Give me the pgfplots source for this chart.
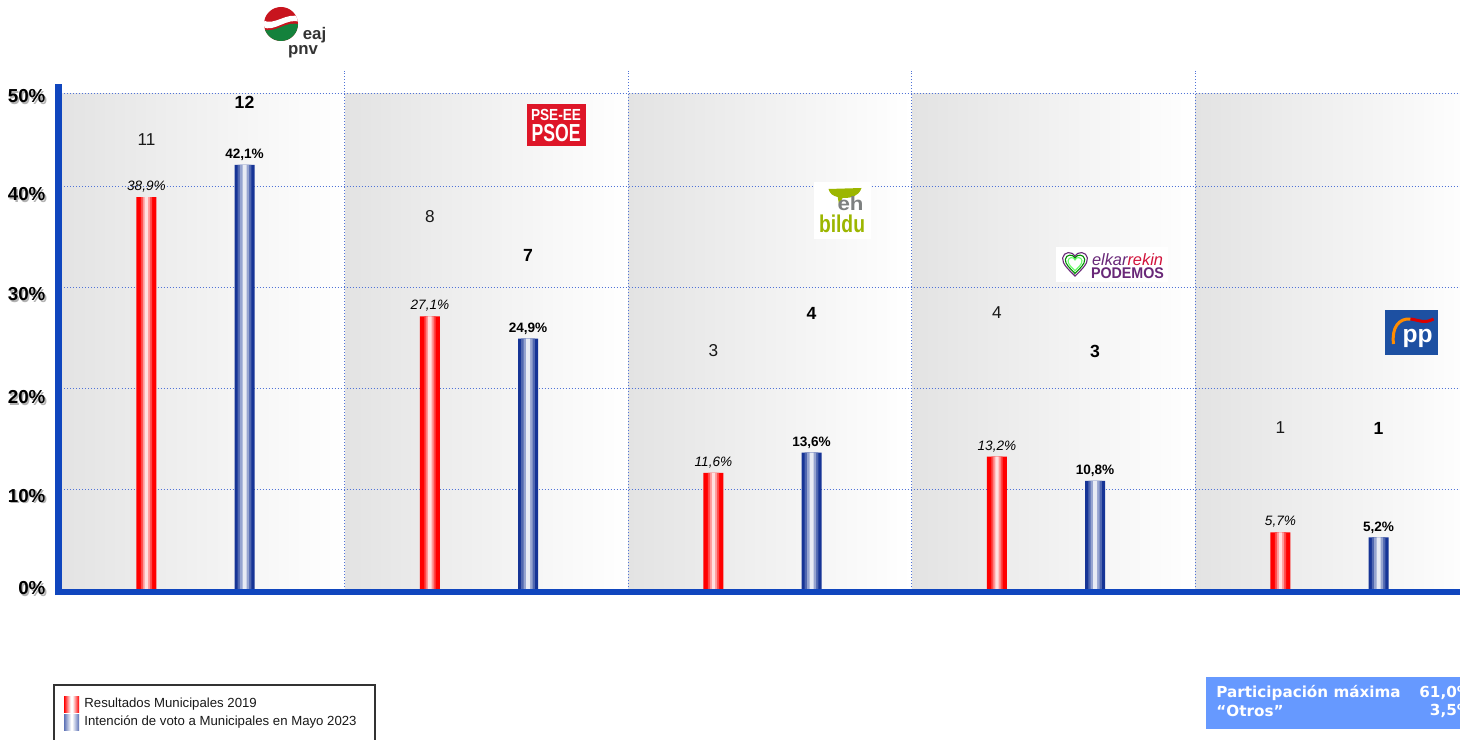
\documentclass[border=0pt]{standalone}
\usepackage{pgfplots}
\pgfplotsset{compat=1.18}
\usepackage{fontspec}
\setmainfont{Liberation Sans}
\newfontfamily\dejavu{DejaVu Sans}
\definecolor{axblue}{RGB}{16,70,190}
\definecolor{gridblue}{RGB}{80,115,215}
\definecolor{barblue}{RGB}{22,52,150}
\definecolor{partblue}{RGB}{102,153,255}
\definecolor{panelgray}{RGB}{227,227,227}
\definecolor{psoered}{RGB}{222,22,40}
\definecolor{bildugreen}{RGB}{156,182,0}
\definecolor{bildugray}{RGB}{125,128,128}
\definecolor{podpurple}{RGB}{105,40,120}
\definecolor{podred}{RGB}{210,20,60}
\definecolor{ppblue}{RGB}{29,80,162}
\definecolor{pnvred}{RGB}{200,20,30}
\definecolor{pnvgreen}{RGB}{20,130,60}
\pgfdeclarehorizontalshading{redbar}{100bp}{color(0bp)=(red); color(25bp)=(red); color(47bp)=(white); color(53bp)=(white); color(75bp)=(red); color(100bp)=(red)}
\pgfdeclarehorizontalshading{bluebar}{100bp}{color(0bp)=(barblue); color(15bp)=(barblue); color(48bp)=(white); color(52bp)=(white); color(85bp)=(barblue); color(100bp)=(barblue)}
\newcommand\sh[1]{\makebox[0pt][l]{\hspace{0.8pt}\raisebox{-0.8pt}{\color{black!30}#1}}#1}
\pgfplotsset{
  rb/.style={ybar, bar shift=0pt, draw=none, forget plot},
}
\tikzset{gl/.style={densely dotted, gridblue, line width=0.5pt}}
\begin{document}
\begin{tikzpicture}
\begin{scope}
\clip (-29.25pt,-74.5pt) rectangle (700.75pt,295pt);
\begin{axis}[
  scale only axis,
  width=700.75pt, height=252.5pt,
  xmin=-0.4832, xmax=4.4603,
  ymin=0, ymax=50,
  clip=false,
  axis line style={draw=none},
  xtick=\empty,
  ytick={0.1,9.24,19.0,29.2,39.1,48.8},
  yticklabels={\sh{0\%},\sh{10\%},\sh{20\%},\sh{30\%},\sh{40\%},\sh{50\%}},
  yticklabel style={font=\fontsize{9.4}{10}\selectfont\bfseries, anchor=east, xshift=-3pt},
  major tick length=0pt,
]
% panels
\shade[left color=panelgray, right color=white] (axis cs:-0.4832,0) rectangle (axis cs:0.527,49.2);
\shade[left color=panelgray, right color=white] (axis cs:0.527,0) rectangle (axis cs:1.527,49.2);
\shade[left color=panelgray, right color=white] (axis cs:1.527,0) rectangle (axis cs:2.527,49.2);
\shade[left color=panelgray, right color=white] (axis cs:2.527,0) rectangle (axis cs:3.527,49.2);
\shade[left color=panelgray, right color=white] (axis cs:3.527,0) rectangle (axis cs:4.527,49.2);
% grid lines
\draw[gl] (axis cs:-0.4832,10) -- (axis cs:4.4603,10);
\draw[gl] (axis cs:-0.4832,20) -- (axis cs:4.4603,20);
\draw[gl] (axis cs:-0.4832,30) -- (axis cs:4.4603,30);
\draw[gl] (axis cs:-0.4832,40) -- (axis cs:4.4603,40);
\draw[gl] (axis cs:-0.4832,49.2) -- (axis cs:4.4603,49.2);
\draw[gl] (axis cs:0.527,0) -- (axis cs:0.527,51.4);
\draw[gl] (axis cs:1.527,0) -- (axis cs:1.527,51.4);
\draw[gl] (axis cs:2.527,0) -- (axis cs:2.527,51.4);
\draw[gl] (axis cs:3.527,0) -- (axis cs:3.527,51.4);
% 2019 results (layered for a red-white-red gradient)
\addplot[rb, bar width=0.0705, fill=red]
  coordinates {(-0.173,38.9) (0.827,27.1) (1.827,11.6) (2.827,13.2) (3.827,5.7)};
\addplot[rb, bar width=0.040, fill=red!72!white]
  coordinates {(-0.173,38.9) (0.827,27.1) (1.827,11.6) (2.827,13.2) (3.827,5.7)};
\addplot[rb, bar width=0.026, fill=red!40!white]
  coordinates {(-0.173,38.9) (0.827,27.1) (1.827,11.6) (2.827,13.2) (3.827,5.7)};
\addplot[rb, bar width=0.012, fill=red!12!white]
  coordinates {(-0.173,38.9) (0.827,27.1) (1.827,11.6) (2.827,13.2) (3.827,5.7)};
% 2023 intention (layered for a blue-white-blue gradient)
\addplot[rb, bar width=0.0705, fill=barblue]
  coordinates {(0.173,42.1) (1.173,24.9) (2.173,13.6) (3.173,10.8) (4.173,5.2)};
\addplot[rb, bar width=0.048, fill=barblue!75!white]
  coordinates {(0.173,42.1) (1.173,24.9) (2.173,13.6) (3.173,10.8) (4.173,5.2)};
\addplot[rb, bar width=0.032, fill=barblue!45!white]
  coordinates {(0.173,42.1) (1.173,24.9) (2.173,13.6) (3.173,10.8) (4.173,5.2)};
\addplot[rb, bar width=0.014, fill=barblue!10!white]
  coordinates {(0.173,42.1) (1.173,24.9) (2.173,13.6) (3.173,10.8) (4.173,5.2)};
% value labels
\addplot[only marks, mark=none, point meta=y,
  nodes near coords={\pgfmathprintnumber[assume math mode=true,use comma,fixed,fixed zerofill,precision=1]{\pgfplotspointmeta}\%},
  nodes near coords style={anchor=south, text=black, inner sep=2.2pt, font=\fontsize{6.8}{8}\selectfont\itshape}]
  coordinates {(-0.173,38.9) (0.827,27.1) (1.827,11.6) (2.827,13.2) (3.827,5.7)};
\addplot[only marks, mark=none, point meta=y,
  nodes near coords={\pgfmathprintnumber[assume math mode=true,use comma,fixed,fixed zerofill,precision=1]{\pgfplotspointmeta}\%},
  nodes near coords style={anchor=south, text=black, inner sep=1.8pt, font=\fontsize{6.8}{8}\selectfont\bfseries}]
  coordinates {(0.173,42.1) (1.173,24.9) (2.173,13.6) (3.173,10.8) (4.173,5.2)};
% seats
\addplot[only marks, mark=none, point meta=explicit symbolic, nodes near coords,
  nodes near coords style={anchor=center, text=black!90, inner sep=0pt, font=\fontsize{8.6}{10}\selectfont}]
  coordinates {(-0.173,44.55) [11] (0.827,36.93) [8] (1.827,23.66) [3] (2.827,27.43) [4] (3.827,16.04) [1]};
\addplot[only marks, mark=none, point meta=explicit symbolic, nodes near coords,
  nodes near coords style={anchor=center, text=black, inner sep=0pt, font=\fontsize{8.8}{10}\selectfont\bfseries}]
  coordinates {(0.173,48.3) [12] (1.173,33.17) [7] (2.173,27.43) [4] (3.173,23.66) [3] (4.173,16.04) [1]};
\end{axis}
% axis lines
\draw[axblue, line width=3.5pt] (0pt,-2.5pt) -- (0pt,253pt);
\draw[axblue, line width=2.9pt] (-1.75pt,-1.1pt) -- (702pt,-1.1pt);
% PNV logo
\begin{scope}
\clip (111.25pt,283pt) circle (8.5pt);
\fill[pnvred] (102pt,273pt) rectangle (121pt,292pt);
\fill[pnvgreen] (102pt,273pt) -- (102pt,280.5pt) .. controls (108pt,277.5pt) and (114pt,285.5pt) .. (121pt,282.5pt) -- (121pt,273pt) -- cycle;
\fill[white] (102pt,281.5pt) .. controls (108pt,278.5pt) and (114pt,286.5pt) .. (121pt,284pt) -- (121pt,286.5pt) .. controls (114pt,289.5pt) and (108pt,281.5pt) .. (102pt,285pt) -- cycle;
\end{scope}
\node[text=black!80, inner sep=0pt, font=\fontsize{8.4}{9}\selectfont\bfseries] at (128pt,277.3pt) {eaj};
\node[text=black!80, inner sep=0pt, font=\fontsize{8.4}{9}\selectfont\bfseries] at (122.25pt,269.3pt) {pnv};
% PSOE logo
\fill[psoered] (234.25pt,222pt) rectangle (263.75pt,243pt);
\node[text=white, inner sep=0pt] at (248.75pt,237.6pt) {\resizebox{25pt}{5.6pt}{\bfseries PSE-EE}};
\node[text=white, inner sep=0pt] at (248.75pt,228.3pt) {\resizebox{24.5pt}{8.6pt}{\bfseries PSOE}};
% EH Bildu logo
\fill[white] (377.75pt,175.5pt) rectangle (406.25pt,204pt);
\fill[bildugreen] (385pt,200.5pt) -- (401.5pt,201pt) .. controls (400pt,196.5pt) and (396pt,196pt) .. (392pt,196pt) -- (390.3pt,192.5pt) -- (389.6pt,196.5pt) .. controls (387pt,197pt) and (385.5pt,198.5pt) .. cycle;
\node[text=bildugray, inner sep=0pt] at (396pt,193pt) {\resizebox{13pt}{7pt}{\bfseries eh}};
\node[text=bildugreen, inner sep=0pt] at (391.75pt,183.2pt) {\resizebox{23pt}{8.8pt}{\bfseries bildu}};
% Elkarrekin Podemos logo
\fill[white] (498.75pt,154pt) rectangle (554.75pt,171.5pt);
\foreach \s/\c in {1/podpurple, 0.78/green!55!black, 0.56/green!60} {
  \draw[\c, line width=0.55pt, shift={(508.25pt,163pt)}, scale=\s] (0pt,-6pt) .. controls (-3pt,-3pt) and (-6.5pt,0pt) .. (-6.2pt,3pt) .. controls (-5.8pt,6.2pt) and (-1.2pt,6.8pt) .. (0pt,3.6pt) .. controls (1.2pt,6.8pt) and (5.8pt,6.2pt) .. (6.2pt,3pt) .. controls (6.5pt,0pt) and (3pt,-3pt) .. cycle;
}
\node[inner sep=0pt] at (534.5pt,165pt) {\resizebox{35.5pt}{!}{\itshape\color{podpurple}elkar\color{podred}rekin}};
\node[inner sep=0pt] at (534.5pt,158.5pt) {\resizebox{36.5pt}{5.4pt}{\bfseries\color{podpurple}PODEMOS}};
% PP logo
\fill[ppblue] (663.25pt,117.5pt) rectangle (689.75pt,140pt);
\draw[orange!90!yellow, line width=1.5pt] (667.5pt,123pt) .. controls (666.5pt,131pt) and (670pt,136pt) .. (676pt,135.5pt);
\draw[red!85!black, line width=1.5pt] (676pt,135.5pt) .. controls (680pt,135pt) and (683pt,133pt) .. (687.5pt,135.5pt);
\node[text=white, inner sep=0pt] at (679.5pt,126pt) {\resizebox{15pt}{!}{\bfseries pp}};
% legend
\draw[black!80, line width=0.6pt, fill=white] (-2.25pt,-47.5pt) rectangle (158.25pt,-78pt);
\shade[shading=redbar] (2.75pt,-53pt) rectangle (10.25pt,-61pt);
\shade[shading=bluebar] (2.75pt,-62pt) rectangle (10.25pt,-70pt);
\node[anchor=west, inner sep=0pt, text=black!90, font=\fontsize{6.6}{8}\selectfont] at (12.75pt,-57pt) {Resultados Municipales 2019};
\node[anchor=west, inner sep=0pt, text=black!90, font=\fontsize{6.6}{8}\selectfont] at (12.75pt,-66pt) {Intención de voto a Municipales en Mayo 2023};
% participation box
\fill[partblue] (573.75pt,-43.5pt) rectangle (730pt,-69.5pt);
\node[anchor=west, inner sep=0pt, text=white, font=\dejavu\fontsize{7.6}{8}\selectfont\bfseries] at (578.75pt,-51.5pt) {Participación máxima};
\node[anchor=east, inner sep=0pt, text=white, font=\dejavu\fontsize{7.6}{8}\selectfont\bfseries] at (707pt,-51.5pt) {61,0\%};
\node[anchor=west, inner sep=0pt, text=white, font=\dejavu\fontsize{7.6}{8}\selectfont\bfseries] at (578.75pt,-60.5pt) {“Otros”};
\node[anchor=east, inner sep=0pt, text=white, font=\dejavu\fontsize{7.6}{8}\selectfont\bfseries] at (707pt,-60.5pt) {3,5\%};
\end{scope}
\pgfresetboundingbox
\path[use as bounding box] (-29.25pt,-74.5pt) rectangle (700.75pt,295pt);
\end{tikzpicture}
\end{document}
